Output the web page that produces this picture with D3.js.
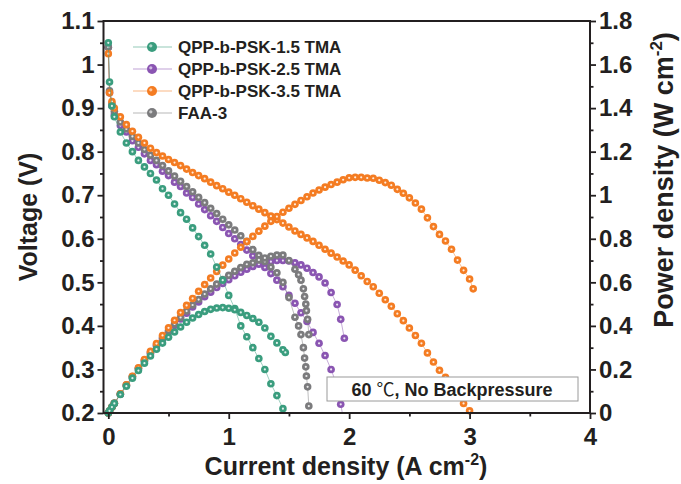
<!DOCTYPE html>
<html>
<head>
<meta charset="utf-8">
<script src="https://cdn.jsdelivr.net/npm/d3@7/dist/d3.min.js"></script>
<style>
  body { margin: 0; background: #fff; }
  svg { display: block; font-family: "Liberation Sans", Arial, Helvetica, sans-serif; font-weight: bold; }
</style>
</head>
<body>
<svg id="chart" width="681" height="484"></svg>
<script>
// ---- data ----
const seriesNames = ['QPP-b-PSK-1.5 TMA', 'QPP-b-PSK-2.5 TMA', 'QPP-b-PSK-3.5 TMA', 'FAA-3']

const current15 = [0, 0.01, 0.03, 0.05, 0.1, 0.15, 0.2, 0.25, 0.3, 0.35, 0.4, 0.45, 0.5, 0.55, 0.6, 0.65, 0.7, 0.75, 0.8, 0.85, 0.9, 0.95, 1.0, 1.05, 1.1, 1.15, 1.2, 1.25, 1.3, 1.35, 1.4, 1.45, 1.47]
const voltage15 = [1.05, 0.96, 0.905, 0.88, 0.845, 0.82, 0.80, 0.78, 0.765, 0.75, 0.735, 0.715, 0.70, 0.68, 0.66, 0.645, 0.625, 0.605, 0.585, 0.565, 0.535, 0.505, 0.47, 0.44, 0.40, 0.375, 0.35, 0.325, 0.30, 0.267, 0.24, 0.21, 0.195]
const power15 = [0, 0.01, 0.027, 0.044, 0.085, 0.123, 0.16, 0.195, 0.229, 0.262, 0.293, 0.321, 0.348, 0.372, 0.395, 0.417, 0.436, 0.452, 0.466, 0.476, 0.482, 0.484, 0.481, 0.474, 0.462, 0.448, 0.434, 0.417, 0.39, 0.352, 0.322, 0.29, 0.278]

const current25 = [0, 0.01, 0.03, 0.05, 0.1, 0.15, 0.2, 0.25, 0.3, 0.35, 0.4, 0.45, 0.5, 0.55, 0.6, 0.65, 0.7, 0.75, 0.8, 0.85, 0.9, 0.95, 1.0, 1.05, 1.1, 1.15, 1.2, 1.25, 1.3, 1.35, 1.4, 1.45, 1.5, 1.55, 1.6, 1.65, 1.7, 1.75, 1.8, 1.85, 1.9, 1.93, 1.96]
const voltage25 = [1.04, 0.935, 0.905, 0.885, 0.86, 0.845, 0.825, 0.81, 0.795, 0.78, 0.77, 0.755, 0.745, 0.73, 0.72, 0.705, 0.695, 0.68, 0.667, 0.653, 0.64, 0.626, 0.612, 0.60, 0.587, 0.574, 0.561, 0.548, 0.534, 0.52, 0.505, 0.49, 0.47, 0.452, 0.43, 0.41, 0.385, 0.36, 0.332, 0.30, 0.262, 0.22, 0.175]
const power25 = [0, 0.0094, 0.027, 0.044, 0.086, 0.127, 0.165, 0.203, 0.239, 0.273, 0.308, 0.34, 0.373, 0.402, 0.432, 0.458, 0.487, 0.51, 0.534, 0.555, 0.576, 0.595, 0.612, 0.63, 0.646, 0.66, 0.673, 0.683, 0.69, 0.695, 0.70, 0.70, 0.698, 0.69, 0.68, 0.665, 0.645, 0.625, 0.597, 0.553, 0.498, 0.43, 0.343]

const current35 = [0, 0.01, 0.03, 0.05, 0.1, 0.15, 0.2, 0.25, 0.3, 0.35, 0.4, 0.45, 0.5, 0.55, 0.6, 0.65, 0.7, 0.75, 0.8, 0.85, 0.9, 0.95, 1.0, 1.05, 1.1, 1.15, 1.2, 1.25, 1.3, 1.35, 1.4, 1.45, 1.5, 1.55, 1.6, 1.65, 1.7, 1.75, 1.8, 1.85, 1.9, 1.95, 2.0, 2.05, 2.1, 2.15, 2.2, 2.25, 2.3, 2.35, 2.4, 2.45, 2.5, 2.55, 2.6, 2.65, 2.7, 2.75, 2.8, 2.85, 2.9, 2.95, 3.0, 3.03]
const voltage35 = [1.025, 0.935, 0.915, 0.90, 0.88, 0.862, 0.847, 0.833, 0.82, 0.808, 0.798, 0.79, 0.782, 0.775, 0.768, 0.76, 0.752, 0.745, 0.738, 0.73, 0.722, 0.715, 0.707, 0.70, 0.692, 0.684, 0.676, 0.668, 0.66, 0.652, 0.644, 0.636, 0.627, 0.618, 0.61, 0.602, 0.594, 0.585, 0.576, 0.567, 0.558, 0.549, 0.54, 0.528, 0.515, 0.502, 0.49, 0.475, 0.46, 0.445, 0.428, 0.412, 0.395, 0.378, 0.36, 0.338, 0.317, 0.298, 0.282, 0.264, 0.242, 0.222, 0.205, 0.188]
const power35 = [0, 0.0094, 0.027, 0.045, 0.088, 0.129, 0.169, 0.208, 0.246, 0.283, 0.319, 0.356, 0.391, 0.426, 0.461, 0.494, 0.526, 0.559, 0.59, 0.62, 0.65, 0.679, 0.707, 0.735, 0.761, 0.787, 0.811, 0.835, 0.858, 0.88, 0.902, 0.922, 0.94, 0.958, 0.976, 0.993, 1.01, 1.024, 1.037, 1.049, 1.06, 1.071, 1.08, 1.082, 1.082, 1.079, 1.078, 1.069, 1.058, 1.046, 1.027, 1.009, 0.988, 0.964, 0.936, 0.896, 0.856, 0.82, 0.79, 0.752, 0.702, 0.655, 0.615, 0.57]

const currentFAA = [0, 0.01, 0.03, 0.05, 0.1, 0.15, 0.2, 0.25, 0.3, 0.35, 0.4, 0.45, 0.5, 0.55, 0.6, 0.65, 0.7, 0.75, 0.8, 0.85, 0.9, 0.95, 1.0, 1.05, 1.1, 1.15, 1.2, 1.25, 1.3, 1.35, 1.4, 1.45, 1.5, 1.55, 1.58, 1.6, 1.62, 1.63, 1.64, 1.645, 1.655, 1.665]
const voltageFAA = [1.04, 0.94, 0.91, 0.893, 0.868, 0.852, 0.835, 0.82, 0.805, 0.792, 0.78, 0.768, 0.756, 0.744, 0.732, 0.72, 0.708, 0.695, 0.683, 0.67, 0.658, 0.645, 0.632, 0.62, 0.607, 0.594, 0.575, 0.562, 0.548, 0.535, 0.522, 0.50, 0.465, 0.42, 0.40, 0.38, 0.35, 0.326, 0.306, 0.285, 0.26, 0.216]
const powerFAA = [0, 0.0094, 0.027, 0.045, 0.087, 0.128, 0.167, 0.205, 0.241, 0.277, 0.312, 0.346, 0.378, 0.409, 0.439, 0.468, 0.496, 0.521, 0.546, 0.57, 0.592, 0.613, 0.632, 0.651, 0.668, 0.683, 0.69, 0.703, 0.712, 0.72, 0.725, 0.725, 0.70, 0.66, 0.635, 0.61, 0.57, 0.535, 0.50, 0.47, 0.43, 0.36]

const xTicks = [0, 1, 2, 3, 4]
const xMinorTicks = [0.5, 1.5, 2.5, 3.5]
const voltageTicks = [0.2, 0.3, 0.4, 0.5, 0.6, 0.7, 0.8, 0.9, 1.0, 1.1]
const voltageMinorTicks = [0.25, 0.35, 0.45, 0.55, 0.65, 0.75, 0.85, 0.95, 1.05]
const powerTicks = [0, 0.2, 0.4, 0.6, 0.8, 1.0, 1.2, 1.4, 1.6, 1.8]
const powerMinorTicks = [0.1, 0.3, 0.5, 0.7, 0.9, 1.1, 1.3, 1.5, 1.7]

// ---- layout ----
const ink = '#231f20'
const colors = ['#3a9d7e', '#8a55b2', '#f47c22', '#7b7b7d']
const plot = { left: 103.5, right: 590, top: 21, bottom: 413 }

const series = [
  { name: seriesNames[0], color: colors[0], I: current15, V: voltage15, P: power15 },
  { name: seriesNames[1], color: colors[1], I: current25, V: voltage25, P: power25 },
  { name: seriesNames[2], color: colors[2], I: current35, V: voltage35, P: power35 },
  { name: seriesNames[3], color: colors[3], I: currentFAA, V: voltageFAA, P: powerFAA },
]

const svg = d3.select('#chart')

const x = d3.scaleLinear().domain([-0.04, 4]).range([plot.left, plot.right])
const yV = d3.scaleLinear().domain([0.2, 1.1]).range([plot.bottom, plot.top])
const yP = d3.scaleLinear().domain([0, 1.8]).range([plot.bottom, plot.top])

const fmt = (d) => String(+d.toFixed(2))

svg.append('defs').append('clipPath').attr('id', 'plot-clip')
  .append('rect')
  .attr('x', plot.left).attr('y', plot.top)
  .attr('width', plot.right - plot.left).attr('height', plot.bottom - plot.top)

// ---- curves ----
const curveLayer = svg.append('g')
const drawOrder = [1, 3, 2, 0]

drawOrder.forEach((si) => {
  const s = series[si]
  const vPts = s.I.map((c, i) => [c, s.V[i]])
  const pPts = s.I.map((c, i) => [c, s.P[i]])
  const curves = [
    { pts: vPts, y: yV, lo: 0.2 },
    { pts: pPts, y: yP, lo: 0 },
  ]
  curves.forEach((cv) => {
    const g = curveLayer.append('g')
    g.append('path')
      .attr('clip-path', 'url(#plot-clip)')
      .attr('d', d3.line().x((d) => x(d[0])).y((d) => cv.y(d[1]))(cv.pts))
      .attr('fill', 'none')
      .attr('stroke', s.color)
      .attr('stroke-opacity', 0.55)
      .attr('stroke-width', 0.9)
    // markers outside the frame are hidden, only the line reaches the axis
    const inside = cv.pts.filter((d) => d[1] >= cv.lo - 1e-9)
    g.selectAll('circle.bead')
      .data(inside)
      .join('circle')
      .attr('class', 'bead')
      .attr('cx', (d) => x(d[0]))
      .attr('cy', (d) => cv.y(d[1]))
      .attr('r', 3.8)
      .attr('fill', s.color)
    g.selectAll('circle.glint')
      .data(inside)
      .join('circle')
      .attr('class', 'glint')
      .attr('cx', (d) => x(d[0]))
      .attr('cy', (d) => cv.y(d[1]))
      .attr('r', 1.1)
      .attr('fill', '#fff')
      .attr('fill-opacity', 0.85)
  })
})

// ---- frame & axes ----
svg.append('rect')
  .attr('x', plot.left).attr('y', plot.top)
  .attr('width', plot.right - plot.left).attr('height', plot.bottom - plot.top)
  .attr('fill', 'none').attr('stroke', ink).attr('stroke-width', 2)

function styleAxis(g, fontSize) {
  g.select('.domain').remove()
  g.selectAll('line').attr('stroke', ink).attr('stroke-width', 1.8)
  g.selectAll('text')
    .attr('fill', ink)
    .style('font-size', fontSize + 'px')
    .style('font-weight', 'bold')
    .style('font-family', '"Liberation Sans", Arial, sans-serif')
}

svg.append('g').attr('transform', `translate(0,${plot.bottom})`)
  .call(d3.axisBottom(x).tickValues(xTicks).tickSize(6).tickPadding(9).tickFormat(fmt))
  .call((g) => styleAxis(g, 24))
svg.append('g').attr('transform', `translate(0,${plot.bottom})`)
  .call(d3.axisBottom(x).tickValues(xMinorTicks).tickSize(3.5).tickFormat(''))
  .call((g) => styleAxis(g, 24))

svg.append('g').attr('transform', `translate(${plot.left},0)`)
  .call(d3.axisLeft(yV).tickValues(voltageTicks).tickSize(6).tickPadding(3).tickFormat(fmt))
  .call((g) => styleAxis(g, 24))
svg.append('g').attr('transform', `translate(${plot.left},0)`)
  .call(d3.axisLeft(yV).tickValues(voltageMinorTicks).tickSize(3.5).tickFormat(''))
  .call((g) => styleAxis(g, 24))

svg.append('g').attr('transform', `translate(${plot.right},0)`)
  .call(d3.axisRight(yP).tickValues(powerTicks).tickSize(6).tickPadding(3).tickFormat(fmt))
  .call((g) => styleAxis(g, 24))
svg.append('g').attr('transform', `translate(${plot.right},0)`)
  .call(d3.axisRight(yP).tickValues(powerMinorTicks).tickSize(3.5).tickFormat(''))
  .call((g) => styleAxis(g, 24))

// ---- axis titles ----
const xTitle = svg.append('text')
  .attr('x', 346).attr('y', 475)
  .attr('text-anchor', 'middle').attr('fill', ink).style('font-size', '25px')
xTitle.append('tspan').text('Current density (A cm')
xTitle.append('tspan').attr('dy', -10).style('font-size', '16px').text('-2')
xTitle.append('tspan').attr('dy', 10).text(')')

svg.append('text')
  .attr('transform', `translate(37,${(plot.top + plot.bottom) / 2}) rotate(-90)`)
  .attr('text-anchor', 'middle').attr('fill', ink).style('font-size', '25px')
  .text('Voltage (V)')

const rTitle = svg.append('text')
  .attr('transform', `translate(673,180) rotate(-90)`)
  .attr('text-anchor', 'middle').attr('fill', ink).style('font-size', '27px')
rTitle.append('tspan').text('Power density (W cm')
rTitle.append('tspan').attr('dy', -11).style('font-size', '17px').text('-2')
rTitle.append('tspan').attr('dy', 11).text(')')

// ---- legend ----
const legend = svg.append('g')
series.forEach((s, i) => {
  const yy = 47 + i * 22
  legend.append('line')
    .attr('x1', 133).attr('x2', 172).attr('y1', yy).attr('y2', yy)
    .attr('stroke', s.color).attr('stroke-opacity', 0.55).attr('stroke-width', 1)
  legend.append('circle').attr('cx', 152).attr('cy', yy).attr('r', 5).attr('fill', s.color)
  legend.append('circle').attr('cx', 150.8).attr('cy', yy - 1.2).attr('r', 1.6)
    .attr('fill', '#fff').attr('fill-opacity', 0.6)
  legend.append('text')
    .attr('x', 178).attr('y', yy + 6)
    .attr('fill', ink).style('font-size', '17px')
    .text(s.name)
})

// ---- condition note ----
svg.append('rect')
  .attr('x', 327).attr('y', 377).attr('width', 251).attr('height', 24)
  .attr('fill', '#fff').attr('stroke', '#9a9a9a').attr('stroke-width', 1)
const note = svg.append('text')
  .attr('x', 452).attr('y', 396)
  .attr('text-anchor', 'middle').attr('fill', ink).style('font-size', '18px')
note.append('tspan').text('60 ')
note.append('tspan')
  .style('font-family', '"Noto Sans CJK SC", sans-serif').style('font-weight', 'normal')
  .text('\u2103')
note.append('tspan').text(', No Backpressure')
</script>
</body>
</html>
